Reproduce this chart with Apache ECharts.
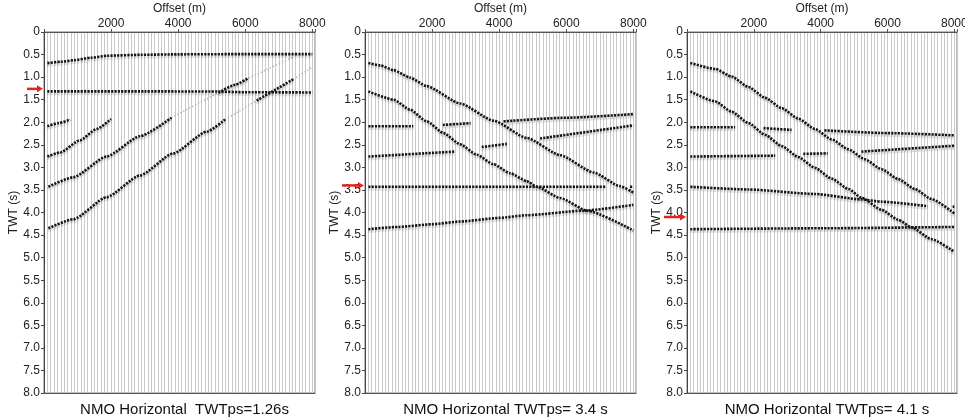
<!DOCTYPE html>
<html>
<head>
<meta charset="utf-8">
<script src="https://cdn.jsdelivr.net/npm/echarts@6/dist/echarts.min.js"></script>
<style>
  html, body { margin: 0; padding: 0; background: #fff; }
  #c { width: 965px; height: 418px; }
</style>
</head>
<body>
<div id="c"></div>
<script>
// ---- axes ----
const offsetTickStep = 2000;      // labelled offset ticks (m)
const offsetMax = 8080;           // right edge of the gather (m)
const traceSpacing = 100;         // one trace every 100 m
const twtMax = 8;                 // s
const twtStep = 0.5;              // s
const offsetAxisName = 'Offset (m)';
const twtAxisName = 'TWT (s)';

// ---- panel captions and picked times ----
const panelTitles = [
  'NMO Horizontal  TWTps=1.26s',
  'NMO Horizontal TWTps= 3.4 s',
  'NMO Horizontal TWTps= 4.1 s'
];
const pickTimes = [1.26, 3.4, 4.1];

// ---- panel 1 events, [offset m, TWT s] ----
const p1Event1 = [[100,0.69],[500,0.66],[900,0.625],[1400,0.57],[1900,0.525],[2900,0.505],[4000,0.495],[6000,0.49],[8000,0.49]];
const p1Event2 = [[100,1.315],[3000,1.315],[5200,1.32],[6000,1.335],[8000,1.34]];
const p1Event3 = [[100,2.09],[430,2.02],[780,1.94]];
const p1Event4 = [[100,2.76],[480,2.67],[1070,2.40],[1570,2.15],[2000,1.93]];
const p1Event5a = [[130,3.43],[870,3.22],[1870,2.76],[2860,2.31],[3800,1.90]];
const p1Event5b = [[5200,1.35],[5700,1.17],[6100,1.02]];
const p1Event5Weak = [[[3800,1.90],[4500,1.62],[5200,1.35]], [[6100,1.02],[7430,0.56]]];
const p1Event6a = [[130,4.35],[875,4.15],[1870,3.66],[2860,3.18],[3855,2.69],[4850,2.21],[5400,1.94]];
const p1Event6b = [[6340,1.52],[7430,1.05]];
const p1Event6Weak = [[[5400,1.94],[6340,1.52]], [[7430,1.05],[8000,0.78]]];

// ---- panel 2 events ----
const p2Event1 = [[100,0.685],[450,0.74],[850,0.845],[1340,1.01],[1840,1.20],[2840,1.585],[3830,1.965],[4830,2.35],[5820,2.73],[6820,3.115],[7600,3.415],[8000,3.56]];
const p2Event2 = [[100,1.315],[850,1.50],[1340,1.72],[1840,1.98],[2340,2.24],[2840,2.49],[3330,2.72],[3830,2.93],[4330,3.13],[4830,3.31],[5125,3.43],[5820,3.68],[6620,3.96],[8000,4.40]];
const p2Event3 = [[[100,2.09],[1440,2.09]], [[2320,2.06],[3150,2.02]], [[4130,1.98],[6000,1.90],[8000,1.82]]];
const p2Event4 = [[[100,2.76],[2690,2.65]], [[3480,2.55],[4230,2.48]], [[5220,2.36],[8000,2.07]]];
const p2Event5 = [[[100,3.43],[7200,3.43]], [[7900,3.43],[8000,3.43]]];
const p2Event6 = [[100,4.37],[1000,4.32],[2000,4.26],[2840,4.20],[4000,4.12],[4830,4.06],[6500,3.96],[8000,3.83]];

// ---- panel 3 events ----
const p3Event1 = [[100,0.685],[850,0.82],[1340,0.99],[1840,1.22],[2340,1.46],[2840,1.69],[3330,1.92],[3830,2.15],[4330,2.38],[4830,2.60],[5320,2.82],[5820,3.04],[6320,3.26],[6820,3.48],[7310,3.70],[8000,4.02]];
const p3Event2 = [[100,1.315],[850,1.54],[1340,1.77],[1840,2.02],[2340,2.28],[2840,2.53],[3330,2.77],[3830,3.01],[4330,3.25],[4830,3.48],[5220,3.67],[5820,3.94],[6320,4.16],[6720,4.33],[7310,4.59],[8000,4.87]];
const p3Event3 = [[[100,2.11],[1440,2.11]], [[2290,2.13],[3130,2.17]], [[4110,2.18],[6000,2.24],[8000,2.29]]];
const p3Event4 = [[[100,2.76],[2640,2.74]], [[3480,2.70],[4210,2.69]], [[5220,2.65],[8000,2.52]]];
const p3Event5 = [[[100,3.43],[1840,3.49],[3830,3.59],[5220,3.71],[5820,3.76],[7200,3.86]], [[7950,3.87],[8000,3.87]]];
const p3Event6 = [[100,4.37],[4000,4.35],[8000,4.32]];

// strong (black) and faint segments for each panel
const strongSegments = [
  [p1Event1, p1Event2, p1Event3, p1Event4, p1Event5a, p1Event5b, p1Event6a, p1Event6b],
  [p2Event1, p2Event2, ...p2Event3, ...p2Event4, ...p2Event5, p2Event6],
  [p3Event1, p3Event2, ...p3Event3, ...p3Event4, ...p3Event5, p3Event6]
];
const weakSegments = [
  [...p1Event5Weak, ...p1Event6Weak],
  [],
  []
];

// ---- layout ----
const FONT = 'Liberation Sans, Arial, Helvetica, sans-serif';
const panels = [
  { left: 44,  width: 271, arrowLen: 16 },
  { left: 365, width: 271, arrowLen: 22 },
  { left: 687, width: 270, arrowLen: 22 }
];
const gridTop = 32, gridHeight = 361;

const grids = [], xAxes = [], yAxes = [], series = [], titles = [];

panels.forEach((p, i) => {
  grids.push({
    left: p.left, top: gridTop, width: p.width, height: gridHeight,
    outerBoundsMode: 'none', containLabel: false,
    show: true, borderColor: '#777', borderWidth: 1, backgroundColor: '#fff'
  });
  // labelled offset axis on top
  xAxes.push({
    type: 'value', gridIndex: i, position: 'top',
    min: 0, max: offsetMax, interval: offsetTickStep,
    axisLine: { show: true, lineStyle: { color: '#555', width: 1 } },
    axisTick: { show: true, length: 3, lineStyle: { color: '#555' } },
    axisLabel: {
      fontFamily: FONT, fontSize: 12, color: '#222', margin: 2,
      formatter: v => (v > 0 && v % offsetTickStep === 0) ? String(v) : ''
    },
    splitLine: { show: false }
  });
  // one gray line per trace
  xAxes.push({
    type: 'value', gridIndex: i, position: 'bottom',
    min: 0, max: offsetMax, interval: traceSpacing,
    axisLine: { show: true, lineStyle: { color: '#555', width: 1 } },
    axisTick: { show: false }, axisLabel: { show: false },
    splitLine: { show: true, lineStyle: { color: '#cacaca', width: 1 } }
  });
  yAxes.push({
    type: 'value', gridIndex: i, inverse: true,
    min: 0, max: twtMax, interval: twtStep,
    name: twtAxisName, nameLocation: 'middle', nameRotate: 90, nameGap: 24, nameMoveOverlap: false,
    nameTextStyle: { fontFamily: FONT, fontSize: 12, color: '#222' },
    axisLine: { show: true, lineStyle: { color: '#444', width: 1 } },
    axisTick: { show: true, length: 3, lineStyle: { color: '#444' } },
    axisLabel: {
      fontFamily: FONT, fontSize: 12, color: '#222', margin: 4,
      formatter: v => v === 0 ? '0' : v.toFixed(1)
    },
    splitLine: { show: false }
  });
  // offset axis name above the tick labels
  titles.push({
    text: offsetAxisName,
    left: p.left + p.width / 2, top: 3, textAlign: 'center', padding: 0,
    textStyle: { fontFamily: FONT, fontSize: 12, fontWeight: 'normal', color: '#222' }
  });
  // panel caption below the section
  titles.push({
    text: panelTitles[i],
    left: p.left + p.width / 2, top: 397, textAlign: 'center',
    textStyle: { fontFamily: FONT, fontSize: 15, fontWeight: 'normal', color: '#111' }
  });

  strongSegments[i].forEach(seg => {
    series.push({
      type: 'line', xAxisIndex: 2 * i, yAxisIndex: i, data: seg,
      symbol: 'none', smooth: 0.2, smoothMonotone: 'x', silent: true, z: 4,
      lineStyle: {
        color: '#141414', width: 2.6, type: [2.2, 1.15], cap: 'butt',
        shadowColor: 'rgba(0,0,0,0.16)', shadowBlur: 1, shadowOffsetY: 2.5
      }
    });
  });
  weakSegments[i].forEach(seg => {
    series.push({
      type: 'line', xAxisIndex: 2 * i, yAxisIndex: i, data: seg,
      symbol: 'none', silent: true, z: 3,
      lineStyle: { color: '#a8a8a8', width: 1.4, type: [1.2, 2.15], cap: 'butt' }
    });
  });
});

const chart = echarts.init(document.getElementById('c'), null, { renderer: 'canvas' });
chart.setOption({
  animation: false,
  backgroundColor: '#fff',
  title: titles,
  grid: grids,
  xAxis: xAxes,
  yAxis: yAxes,
  series: series
});

// red pick arrows left of each TWT axis
const arrows = [];
panels.forEach((p, i) => {
  const y = chart.convertToPixel({ yAxisIndex: i }, pickTimes[i]);
  const x2 = p.left - 1, x1 = x2 - p.arrowLen;
  arrows.push({
    type: 'line', shape: { x1: x1, y1: y, x2: x2 - 5, y2: y },
    style: { stroke: '#e3261b', lineWidth: 2.5 }, z: 10
  });
  arrows.push({
    type: 'polygon', shape: { points: [[x2 - 6, y - 3.5], [x2, y], [x2 - 6, y + 3.5]] },
    style: { fill: '#e3261b' }, z: 10
  });
});
chart.setOption({ graphic: arrows });
</script>
</body>
</html>
